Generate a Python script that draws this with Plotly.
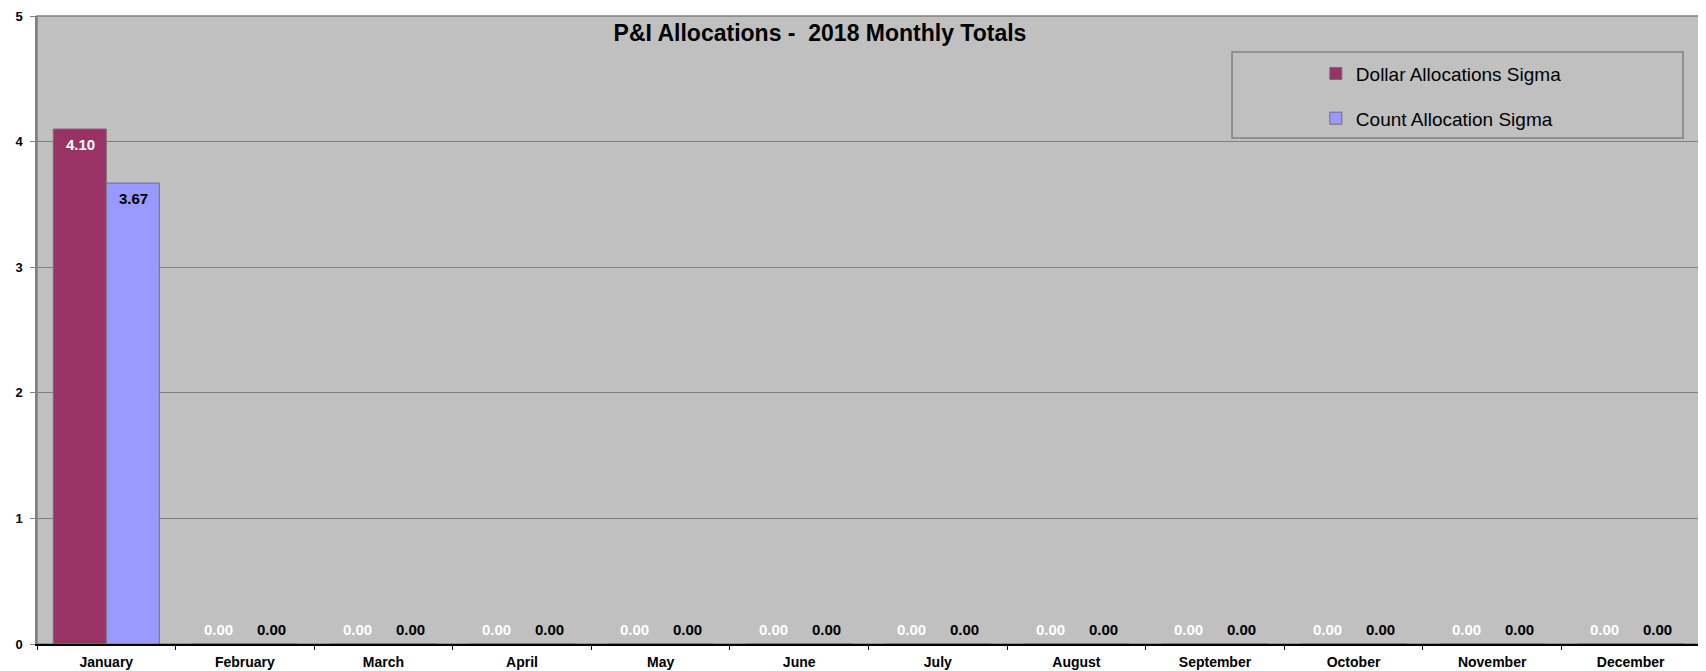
import plotly.graph_objects as go

months = ["January", "February", "March", "April", "May", "June", "July",
          "August", "September", "October", "November", "December"]
dollar_sigma = [4.10, 0, 0, 0, 0, 0, 0, 0, 0, 0, 0, 0]
count_sigma = [3.67, 0, 0, 0, 0, 0, 0, 0, 0, 0, 0, 0]
y_ticks = [0, 1, 2, 3, 4, 5]

DOLLAR_COLOR = "#993366"
COUNT_COLOR = "#9999FF"
FONT = "Liberation Sans, Arial, sans-serif"

# page body has an 8px margin, so the figure is sized/offset accordingly
W, H = 1698, 663

fig = go.Figure()
fig.add_trace(go.Bar(name="Dollar Allocations Sigma", x=months, y=dollar_sigma,
                     marker=dict(color=DOLLAR_COLOR, line=dict(color="#707070", width=1)),
                     legendgroup="a"))
fig.add_trace(go.Bar(name="Count Allocation Sigma", x=months, y=count_sigma,
                     marker=dict(color=COUNT_COLOR, line=dict(color="#707070", width=1)),
                     legendgroup="b"))

annotations = []
for series, shift, color in ((dollar_sigma, -26, "white"), (count_sigma, 27, "black")):
    for m, v in zip(months, series):
        annotations.append(dict(
            x=m, y=v, xref="x", yref="y", text=f"{v:.2f}", showarrow=False,
            xshift=shift, yshift=(-15 if v > 0 else 15), yanchor="middle",
            font=dict(family=FONT, size=15, color=color, weight="bold")))

fig.update_layout(
    width=W, height=H,
    margin=dict(l=29, r=6, t=8, b=27),
    paper_bgcolor="white", plot_bgcolor="#C0C0C0",
    barmode="group", bargap=0.235, bargroupgap=0,
    font=dict(family=FONT, size=12, color="black"),
    title=dict(text="<b>P&I Allocations -  2018 Monthly Totals</b>",
               x=812 / W, xanchor="center", xref="container",
               y=1 - 25 / H, yanchor="middle", yref="container",
               font=dict(family=FONT, size=23, color="black")),
    showlegend=True,
    legend=dict(x=0.769, xanchor="left", y=0.9385, yanchor="top",
                bgcolor="rgba(0,0,0,0)", borderwidth=0,
                font=dict(family=FONT, size=19, color="black"),
                tracegroupgap=17, traceorder="grouped"),
    annotations=annotations,
    shapes=[dict(type="rect", xref="paper", yref="paper",
                 x0=0.7186, x1=0.9898, y0=0.8057, y1=0.9427,
                 line=dict(color="#808080", width=1.5), fillcolor="rgba(0,0,0,0)")],
)
fig.update_xaxes(showline=True, linecolor="#000000", linewidth=1.5, mirror=False,
                 ticks="outside", tickson="boundaries", ticklen=4, tickcolor="#000000",
                 ticklabelstandoff=4, automargin=False,
                 tickfont=dict(family=FONT, size=14, color="black", weight="bold"),
                 showgrid=False)
fig.update_yaxes(range=[0, 5], tickvals=y_ticks, showline=True, linecolor="#808080",
                 linewidth=1.5, ticks="outside", ticklen=5, tickcolor="#808080",
                 ticklabelstandoff=5, automargin=False, ticklabeloverflow="allow",
                 tickfont=dict(family=FONT, size=13, color="black", weight="bold"),
                 showgrid=True, gridcolor="#808080", gridwidth=1, zeroline=False)
fig.add_shape(type="rect", xref="paper", yref="paper", x0=0, x1=1, y0=0, y1=1,
              line=dict(color="#808080", width=1.5), fillcolor="rgba(0,0,0,0)", layer="below")

fig.write_html("out.html")
